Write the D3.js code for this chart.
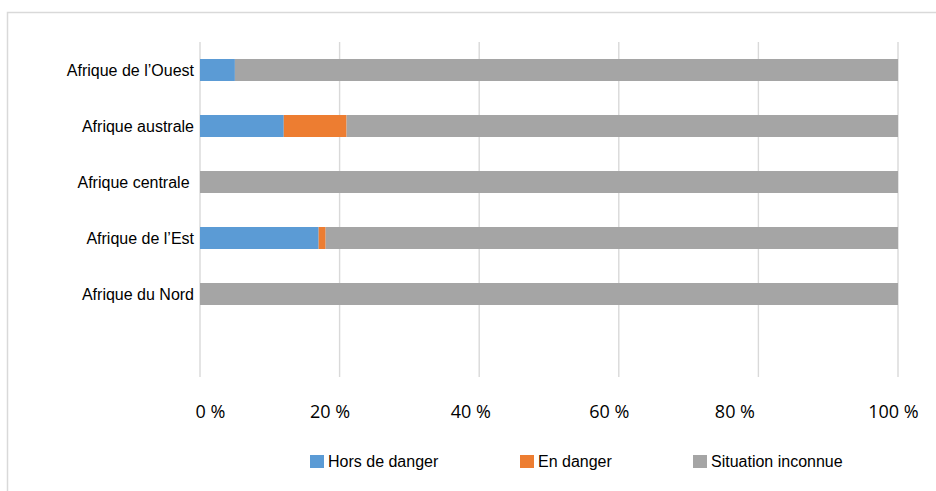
<!DOCTYPE html>
<html><head><meta charset="utf-8">
<script src="https://cdn.jsdelivr.net/npm/d3@7"></script>
<style>
html,body{margin:0;padding:0;background:#fff;}
svg{display:block;}
</style></head>
<body>
<svg id="chart" width="936" height="491"></svg>
<script>
// ---- data ----
const categories = ["Afrique de l\u2019Ouest", "Afrique australe", "Afrique centrale ", "Afrique de l\u2019Est", "Afrique du Nord", ""];
const seriesNames = ["Hors de danger", "En danger", "Situation inconnue"];
const horsDeDanger = [5, 12, 0, 17, 0, null];
const enDanger = [0, 9, 0, 1, 0, null];
const situationInconnue = [95, 79, 100, 82, 100, null];
const tickValues = [0, 20, 40, 60, 80, 100];
const tickLabels = ["0 %", "20 %", "40 %", "60 %", "80 %", "100 %"];

// ---- style / layout ----
const colors = ["#5B9BD5", "#ED7D31", "#A5A5A5"];
const tickLabelNudge = [10, -10, -9, -10, -24, -5];
const legendX = [310, 520, 693];

const svg = d3.select("#chart");

// chart frame
svg.append("rect").attr("x", 7.5).attr("y", 12.5).attr("width", 1000).attr("height", 1000)
  .attr("fill", "#fff").attr("stroke", "#d9d9d9").attr("stroke-width", 1.5);

const x = d3.scaleLinear().domain([0, 100]).range([200, 898]);
const y = d3.scaleBand().domain(categories.map((c, i) => i)).range([42, 378])
  .paddingInner(0.6071).paddingOuter(0.30355);

// gridlines
svg.append("g").selectAll("line").data(tickValues).join("line")
  .attr("x1", d => x(d)).attr("x2", d => x(d))
  .attr("y1", 42).attr("y2", 377)
  .attr("stroke", "#d9d9d9").attr("stroke-width", 1.4);

// stacked bars
const rows = categories.map((c, i) => ({i, v: [horsDeDanger[i], enDanger[i], situationInconnue[i]]}));
const stack = d3.stack().keys([0, 1, 2]).value((d, k) => d.v[k] || 0);
const layers = stack(rows.filter(r => r.v[0] !== null));
svg.append("g").selectAll("g").data(layers).join("g")
  .attr("fill", (d, k) => colors[k])
  .selectAll("rect").data(d => d.filter(s => s[1] - s[0] > 0)).join("rect")
  .attr("x", s => x(s[0])).attr("width", s => x(s[1]) - x(s[0]))
  .attr("y", s => y(s.data.i)).attr("height", y.bandwidth());

// category labels
svg.append("g").selectAll("text").data(categories).join("text")
  .attr("x", 194).attr("y", (d, i) => y(i) + y.bandwidth() / 2 + 5.5)
  .attr("text-anchor", "end")
  .attr("font-family", "Liberation Sans, Arial, sans-serif").attr("font-size", 16)
  .attr("fill", "#000").style("white-space", "pre")
  .text(d => d);

// x tick labels
const xAxis = d3.axisBottom(x).tickValues(tickValues).tickSize(0).tickFormat((d, i) => tickLabels[i]);
const ax = svg.append("g").attr("transform", "translate(0,400)").call(xAxis);
ax.select(".domain").remove();
ax.selectAll("text")
  .attr("font-family", "Open Sans, sans-serif").attr("font-size", 18).attr("fill", "#000")
  .attr("y", 0).attr("dy", "1em")
  .attr("dx", (d, i) => tickLabelNudge[i]);

// legend
const lg = svg.append("g").selectAll("g").data(seriesNames).join("g")
  .attr("transform", (d, i) => `translate(${legendX[i]},455)`);
lg.append("rect").attr("width", 14).attr("height", 13).attr("fill", (d, i) => colors[i]);
lg.append("text").attr("x", 18).attr("y", 12)
  .attr("font-family", "Liberation Sans, Arial, sans-serif").attr("font-size", 16).attr("fill", "#000")
  .text(d => d);
</script>
</body></html>
